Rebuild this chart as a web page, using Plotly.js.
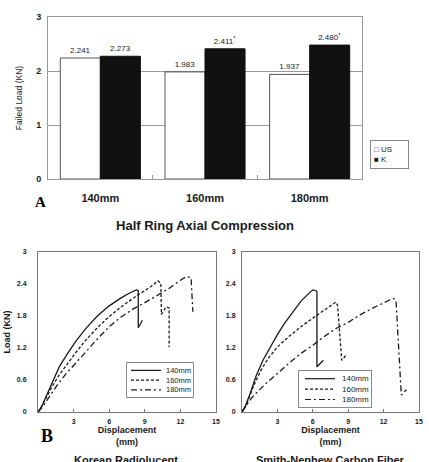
<!DOCTYPE html>
<html>
<head>
<meta charset="utf-8">
<script src="https://cdn.plot.ly/plotly-3.0.1.min.js"></script>
<style>html,body{margin:0;padding:0;background:#fff;}#chart{width:429px;height:462px;}</style>
</head>
<body>
<div id="chart"></div>
<script>
// ---- Data: panel A (bar chart) ----
const categories = ['140mm', '160mm', '180mm'];
const usValues = [2.241, 1.983, 1.937];
const kValues = [2.273, 2.411, 2.480];
const usLabels = ['2.241', '1.983', '1.937'];
const kLabels = ['2.273', '2.411<sup>*</sup>', '2.480<sup>*</sup>'];
const seriesNames = ['US', 'K'];

// ---- Data: panel B left, Korean Radiolucent ----
const krX140 = [0, 0.3, 0.7, 1.2, 1.8, 2.5, 3.2, 4, 5, 6, 7, 7.8, 8.3, 8.45, 8.45, 8.8];
const krY140 = [0, 0.1, 0.3, 0.56, 0.85, 1.1, 1.33, 1.56, 1.8, 1.99, 2.14, 2.24, 2.29, 2.28, 1.58, 1.72];
const krX160 = [0, 0.3, 0.7, 1.2, 1.8, 2.5, 3.2, 4, 5, 6, 7, 8, 9, 9.7, 10.1, 10.35, 10.4, 10.8, 11.05, 11.05];
const krY160 = [0, 0.1, 0.27, 0.48, 0.7, 0.92, 1.12, 1.34, 1.58, 1.79, 1.97, 2.13, 2.27, 2.38, 2.46, 2.42, 1.83, 1.97, 1.95, 1.22];
const krX180 = [0, 0.4, 1, 1.6, 2.3, 3, 4, 5, 6, 7, 8, 9, 10, 11, 12, 12.5, 12.9, 13.0, 13.05];
const krY180 = [0, 0.1, 0.3, 0.5, 0.7, 0.88, 1.12, 1.37, 1.6, 1.78, 1.93, 2.05, 2.18, 2.31, 2.47, 2.54, 2.52, 2.2, 1.88];

// ---- Data: panel B right, Smith-Nephew Carbon Fiber ----
const snX140 = [0, 0.3, 0.7, 1.2, 1.8, 2.5, 3, 3.6, 4.2, 5, 5.6, 6.0, 6.3, 6.35, 6.35, 6.9];
const snY140 = [0, 0.12, 0.35, 0.68, 0.98, 1.27, 1.45, 1.66, 1.85, 2.08, 2.21, 2.29, 2.27, 2.25, 0.85, 0.97];
const snX160 = [0, 0.4, 1, 1.6, 2.2, 3, 4, 5, 6, 7, 7.6, 7.95, 8.1, 8.45, 8.85];
const snY160 = [0, 0.15, 0.5, 0.78, 1.0, 1.22, 1.42, 1.6, 1.76, 1.92, 2.01, 2.06, 2.0, 0.97, 1.07];
const snX180 = [0, 0.4, 0.8, 1.5, 2.2, 3, 4, 5, 6, 7, 8, 9, 10, 11, 12, 12.8, 13.05, 13.3, 13.5, 13.95];
const snY180 = [0, 0.12, 0.26, 0.42, 0.57, 0.72, 0.92, 1.1, 1.25, 1.42, 1.57, 1.68, 1.82, 1.94, 2.05, 2.13, 2.1, 1.2, 0.32, 0.42];

const lineNames = ['140mm', '160mm', '180mm'];
const xTickVals = [3, 6, 9, 12, 15];
const yTickVals = [0, 0.6, 1.2, 1.8, 2.4, 3];

// ---- Layout helpers (pixel -> paper) ----
const W = 429, H = 462;
const px = x => x / W;
const py = y => (H - y) / H;
const FONT = 'Liberation Sans, Arial, sans-serif';
const SERIF = 'Liberation Serif, Times New Roman, serif';
const INK = '#1a1a1a';
const dashStyles = ['solid', '3px,2px', '6px,3px,2px,3px'];

const traces = [
  {type: 'bar', name: seriesNames[0], x: categories, y: usValues, xaxis: 'x', yaxis: 'y',
   marker: {color: '#ffffff', line: {color: '#555', width: 1}},
   text: usLabels, textposition: 'outside', textfont: {size: 8, color: INK, family: FONT}, cliponaxis: false},
  {type: 'bar', name: seriesNames[1], x: categories, y: kValues, xaxis: 'x', yaxis: 'y',
   marker: {color: '#111111', line: {color: '#111', width: 1}},
   text: kLabels, textposition: 'outside', textfont: {size: 8, color: INK, family: FONT}, cliponaxis: false}
];
const leftSets = [[krX140, krY140], [krX160, krY160], [krX180, krY180]];
const rightSets = [[snX140, snY140], [snX160, snY160], [snX180, snY180]];
leftSets.forEach((s, i) => traces.push({type: 'scatter', mode: 'lines', name: lineNames[i], x: s[0], y: s[1],
  xaxis: 'x2', yaxis: 'y2', line: {color: INK, width: 1.3, dash: dashStyles[i]}}));
rightSets.forEach((s, i) => traces.push({type: 'scatter', mode: 'lines', name: lineNames[i], x: s[0], y: s[1],
  xaxis: 'x3', yaxis: 'y3', line: {color: INK, width: 1.3, dash: dashStyles[i]}}));

const lineAxisX = (dom, anchor) => ({
  domain: dom, anchor: anchor, range: [0, 15], tickvals: xTickVals, showline: true, mirror: true,
  linecolor: '#777', linewidth: 1, ticks: 'inside', ticklen: 3, tickcolor: '#777', showgrid: false, zeroline: false,
  tickfont: {size: 7, color: INK, family: FONT, weight: 'bold'}, ticklabelstandoff: 3,
  title: {text: 'Displacement<br>(mm)', font: {size: 9, color: INK, family: FONT, weight: 'bold'}, standoff: 2}
});
const lineAxisY = (dom, anchor, standoff, title) => {
  const ax = {
    domain: dom, anchor: anchor, range: [0, 3], tickvals: yTickVals, showline: true, mirror: true,
    linecolor: '#777', linewidth: 1, ticks: '', showgrid: false, zeroline: false,
    tickfont: {size: 7, color: INK, family: FONT, weight: 'bold'}, ticklabelstandoff: standoff
  };
  if (title) ax.title = {text: title, font: {size: 9, color: INK, family: FONT, weight: 'bold'}, standoff: 4};
  return ax;
};

// legend boxes built as annotations + sample line shapes
function lineLegend(left, top, outerW, fontSize, lineH, sampleX0, sampleX1, pad) {
  const h = lineH * 3 + 1;
  const ann = {xref: 'paper', yref: 'paper', x: px(left), y: py(top), xanchor: 'left', yanchor: 'top',
    text: lineNames.join('<br>'), align: 'right', valign: 'middle', showarrow: false,
    width: outerW - 2 * pad - 2, height: h, borderpad: pad, bordercolor: '#888', borderwidth: 1,
    bgcolor: 'rgba(255,255,255,0)', font: {size: fontSize, color: INK, family: FONT}};
  const textTop = top + 1 + pad + (h - lineH * 3) / 2;
  const shapes = lineNames.map((n, i) => ({type: 'line', xref: 'paper', yref: 'paper', layer: 'above',
    x0: px(sampleX0), x1: px(sampleX1), y0: py(textTop + lineH * (i + 0.5)), y1: py(textTop + lineH * (i + 0.5)),
    line: {color: INK, width: 1.2, dash: dashStyles[i]}}));
  return {ann, shapes};
}
const legL = lineLegend(126, 362, 68, 7.5, 9.75, 131, 161, 2);
const legR = lineLegend(298, 370, 74, 8, 10.4, 305, 335, 2);

const layout = {
  width: W, height: H, margin: {l: 0, r: 0, t: 0, b: 0},
  paper_bgcolor: '#fff', plot_bgcolor: '#fff', showlegend: false,
  font: {family: FONT, color: INK},
  barmode: 'group', bargap: 0.235, bargroupgap: 0,
  xaxis: {domain: [px(48), px(362)], anchor: 'y', type: 'category', showline: true, mirror: true,
    linecolor: '#999', ticks: 'inside', tickson: 'boundaries', ticklen: 4, tickcolor: '#999', showgrid: false,
    tickfont: {size: 11, color: INK, family: FONT, weight: 'bold'}, ticklabelstandoff: 9,
    title: {text: 'Half Ring Axial Compression', font: {size: 13, color: INK, family: FONT, weight: 'bold'}, standoff: 17}},
  yaxis: {domain: [py(179), py(17)], anchor: 'x', range: [0, 3], dtick: 1, showline: true, mirror: true,
    linecolor: '#999', showgrid: true, gridcolor: '#999', zeroline: false, ticks: '',
    tickfont: {size: 9, color: INK, family: FONT, weight: 'bold'}, ticklabelstandoff: 4,
    title: {text: 'Failed Load (KN)', font: {size: 8.5, color: INK, family: FONT}, standoff: 12}},
  xaxis2: lineAxisX([px(38), px(216)], 'y2'),
  yaxis2: lineAxisY([py(412), py(252)], 'x2', 9, 'Load (KN)'),
  xaxis3: lineAxisX([px(242), px(419)], 'y3'),
  yaxis3: lineAxisY([py(412), py(252)], 'x3', 4, ''),
  annotations: [
    {xref: 'paper', yref: 'paper', x: px(40), y: py(202), xanchor: 'center', yanchor: 'middle', text: '<b>A</b>', showarrow: false,
     font: {size: 15, color: '#000', family: SERIF}},
    {xref: 'paper', yref: 'paper', x: px(47), y: py(436), xanchor: 'center', yanchor: 'middle', text: '<b>B</b>', showarrow: false,
     font: {size: 18, color: '#000', family: SERIF}},
    {xref: 'paper', yref: 'paper', x: px(126), y: py(452), xanchor: 'center', yanchor: 'top', text: 'Korean Radiolucent', showarrow: false,
     font: {size: 11, color: INK, family: FONT, weight: 'bold'}},
    {xref: 'paper', yref: 'paper', x: px(330), y: py(452), xanchor: 'center', yanchor: 'top', text: 'Smith-Nephew Carbon Fiber', showarrow: false,
     font: {size: 11, color: INK, family: FONT, weight: 'bold'}},
    {xref: 'paper', yref: 'paper', x: px(370), y: py(140), xanchor: 'left', yanchor: 'top',
     text: '□ ' + seriesNames[0] + '<br>■ ' + seriesNames[1], align: 'left', showarrow: false,
     width: 31, height: 21, borderpad: 3, bordercolor: '#888', borderwidth: 1, bgcolor: '#fff',
     font: {size: 8, color: INK, family: FONT}},
    legL.ann, legR.ann
  ],
  shapes: [...legL.shapes, ...legR.shapes]
};

Plotly.newPlot('chart', traces, layout, {displayModeBar: false, staticPlot: true});
</script>
</body>
</html>
